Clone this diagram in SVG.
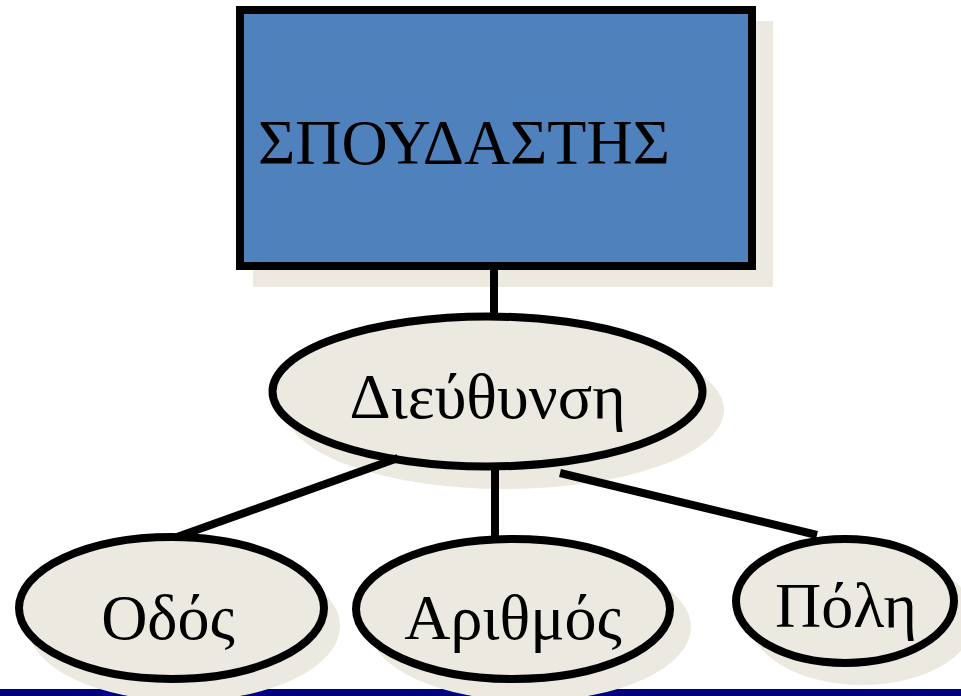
<svg xmlns="http://www.w3.org/2000/svg" width="961" height="696" viewBox="0 0 961 696">
<style>
.shadow{fill:#ECEAE0;stroke:none}
.ent{fill:#4F81BD;stroke:#000;stroke-width:8}
.attr{fill:#ECEAE0;stroke:#000;stroke-width:8}
.lbl{font-family:"Liberation Serif","Times New Roman",serif;font-size:64px;fill:#000}
.conn line{stroke:#000;stroke-width:8;stroke-linecap:butt}
</style>
<rect x="0" y="0" width="961" height="696" fill="#fff"/>
<rect x="0" y="689" width="961" height="7" fill="#000080"/>
<g id="spoudastis">
<rect class="shadow" x="253" y="21" width="520" height="266"/>
<rect class="ent" x="240" y="10" width="512" height="256"/>
<text class="lbl" x="258" y="164">ΣΠΟΥΔΑΣΤΗΣ</text>
</g>
<g id="dieuthynsi">
<ellipse class="shadow" cx="505" cy="410" rx="219" ry="79"/>
<ellipse class="attr" cx="487.5" cy="391.5" rx="215" ry="75"/>
<text class="lbl" x="487.5" y="418" text-anchor="middle">Διεύθυνση</text>
</g>
<g id="odos">
<ellipse class="shadow" cx="184" cy="626" rx="156" ry="75"/>
<ellipse class="attr" cx="171.5" cy="608" rx="152.5" ry="71"/>
<text class="lbl" x="168" y="639" text-anchor="middle">Οδός</text>
</g>
<g id="arithmos">
<ellipse class="shadow" cx="530" cy="627" rx="161" ry="74"/>
<ellipse class="attr" cx="513" cy="609" rx="157" ry="70"/>
<text class="lbl" x="513" y="639" text-anchor="middle">Αριθμός</text>
</g>
<g id="poli">
<ellipse class="shadow" cx="862" cy="619" rx="113" ry="66"/>
<ellipse class="attr" cx="845" cy="601" rx="109" ry="62"/>
<text class="lbl" x="846" y="627" text-anchor="middle">Πόλη</text>
</g>
<g id="connectors" class="conn">
<line x1="494" y1="270" x2="494" y2="316"/>
<line x1="398" y1="458" x2="177" y2="537"/>
<line x1="495" y1="466" x2="495" y2="539"/>
<line x1="560" y1="473" x2="817" y2="535"/>
</g>
</svg>
